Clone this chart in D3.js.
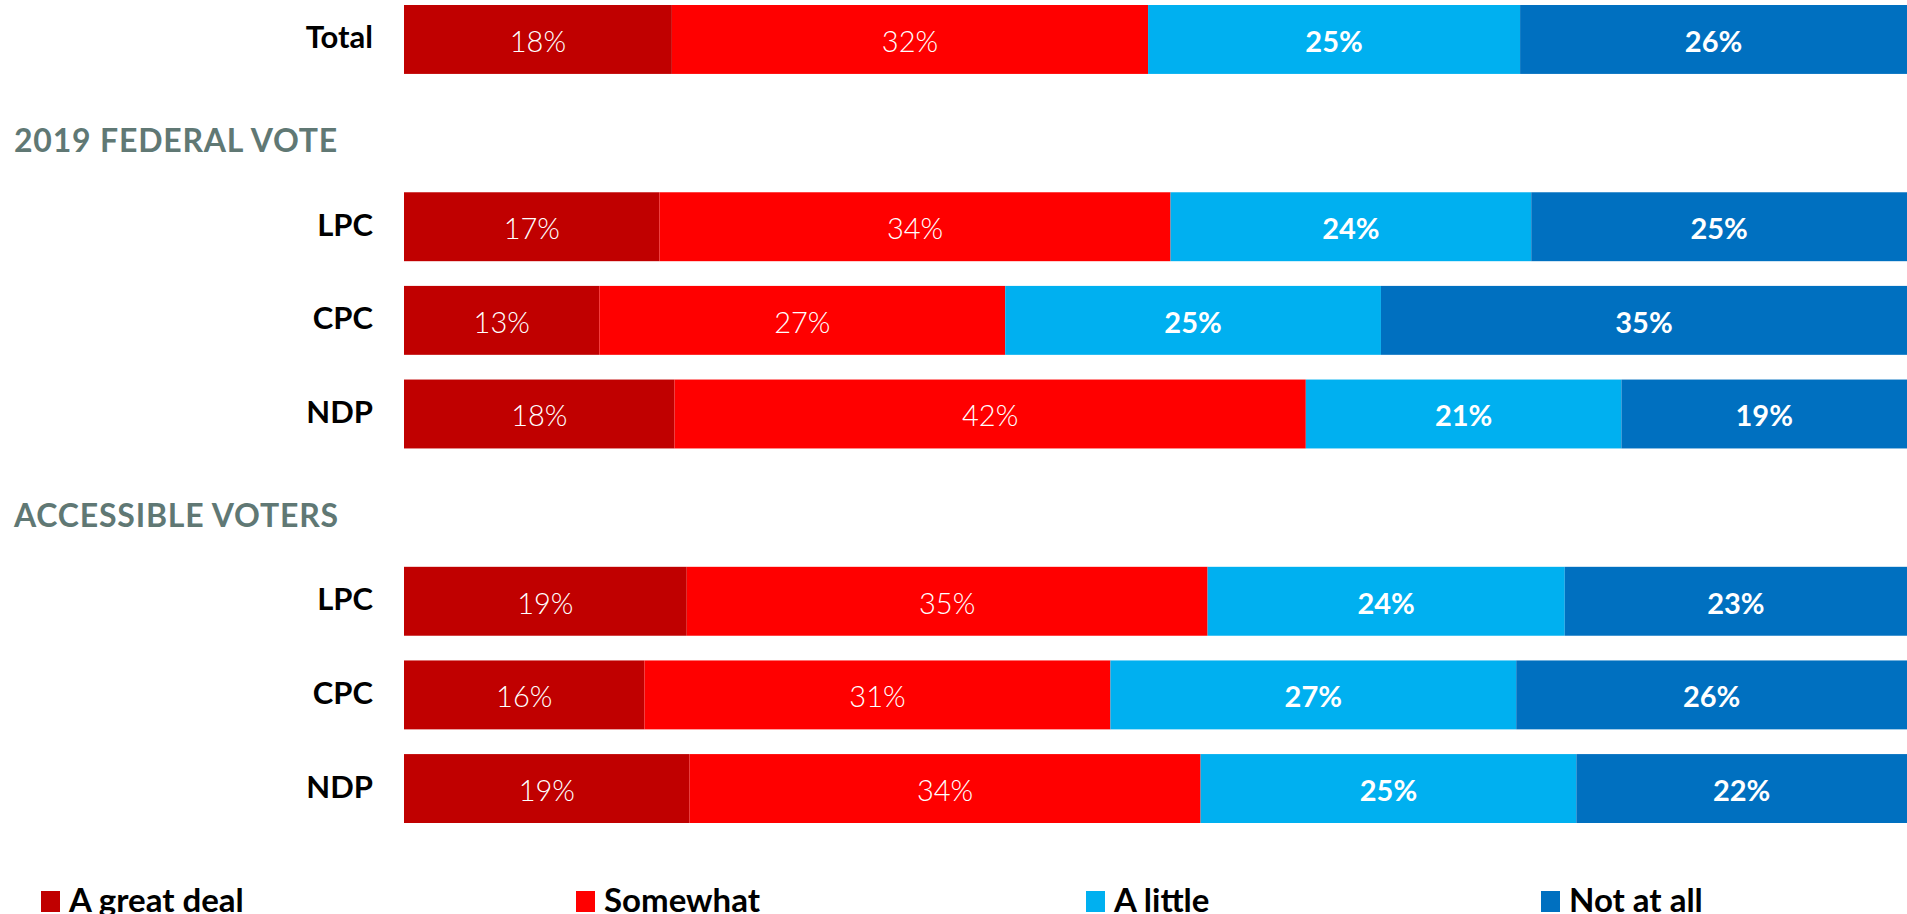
<!DOCTYPE html>
<html><head><meta charset="utf-8">
<script src="https://cdn.jsdelivr.net/npm/d3@7"></script>
<style>
html,body{margin:0;padding:0;background:#fff;overflow:hidden}
svg{display:block;font-family:Lato,"Open Sans",sans-serif}
</style></head>
<body>
<svg id="chart" width="1907" height="914"></svg>
<script>
// ---- data ----
const rowLabels = ["Total", "2019 FEDERAL VOTE", "LPC", "CPC", "NDP", "ACCESSIBLE VOTERS", "LPC", "CPC", "NDP"];
const rowTypes  = ["bar", "header", "bar", "bar", "bar", "header", "bar", "bar", "bar"];
const seriesNames = ["A great deal", "Somewhat", "A little", "Not at all"];
const seriesColors = ["#C00000", "#FF0000", "#00B0F0", "#0070C0"];
const aGreatDeal = [18, null, 17, 13, 18, null, 19, 16, 19];
const somewhat   = [32, null, 34, 27, 42, null, 35, 31, 34];
const aLittle    = [25, null, 24, 25, 21, null, 24, 27, 25];
const notAtAll   = [26, null, 25, 35, 19, null, 23, 26, 22];

// ---- layout ----
const barLeft = 404, barRight = 1907;
const svg = d3.select("#chart");

const rows = rowLabels.map((l, i) => ({
  id: i, label: l, type: rowTypes[i],
  values: [aGreatDeal[i], somewhat[i], aLittle[i], notAtAll[i]]
}));

const y = d3.scaleBand().domain(rows.map(r => r.id)).range([5, 823]).paddingInner(0.264).paddingOuter(0);
const x = d3.scaleLinear().domain([0, 1]).range([barLeft, barRight]);
const color = d3.scaleOrdinal().domain(seriesNames).range(seriesColors);

const barRows = rows.filter(r => r.type === "bar");
barRows.forEach(r => {
  const total = d3.sum(r.values);
  let cum = 0;
  r.segs = r.values.map((v, k) => {
    const s = { series: seriesNames[k], k, v, x0: cum / total, x1: (cum + v) / total };
    cum += v;
    return s;
  });
});

const g = svg.append("g");
const rowG = g.selectAll("g.row").data(barRows).join("g").attr("class", "row")
  .attr("transform", d => `translate(0,${y(d.id)})`);

rowG.selectAll("rect").data(d => d.segs).join("rect")
  .attr("x", d => x(d.x0))
  .attr("width", d => x(d.x1) - x(d.x0))
  .attr("y", 0)
  .attr("height", y.bandwidth())
  .attr("fill", d => color(d.series));

rowG.selectAll("text.val").data(d => d.segs).join("text").attr("class", "val")
  .attr("x", d => (x(d.x0) + x(d.x1)) / 2)
  .attr("y", y.bandwidth() / 2 + 1)
  .attr("text-anchor", "middle")
  .attr("dominant-baseline", "central")
  .attr("fill", "#fff")
  .attr("font-size", 29)
  .attr("font-weight", d => d.k < 2 ? 300 : 700)
  .text(d => d.v + "%");

rowG.append("text")
  .attr("x", 373)
  .attr("y", y.bandwidth() / 2 - 3)
  .attr("text-anchor", "end")
  .attr("dominant-baseline", "central")
  .attr("font-size", 31)
  .attr("font-weight", 700)
  .attr("fill", "#000")
  .text(d => d.label);

// section headers
g.selectAll("text.hdr").data(rows.filter(r => r.type === "header")).join("text").attr("class", "hdr")
  .attr("x", 14)
  .attr("y", d => y(d.id) + y.bandwidth() / 2 + 19)
  .attr("font-size", 32)
  .attr("letter-spacing", 0.8)
  .attr("font-weight", 700)
  .attr("fill", "#607874")
  .text(d => d.label);

// legend
const legendX = [41, 576, 1086, 1541];
const lg = svg.selectAll("g.leg").data(seriesNames).join("g").attr("class", "leg")
  .attr("transform", (d, i) => `translate(${legendX[i]},891)`);
lg.append("rect").attr("width", 19).attr("height", 21).attr("fill", d => color(d));
lg.append("text").attr("x", 28).attr("y", 21)
  .attr("font-size", 33).attr("font-weight", 700).attr("fill", "#000")
  .text(d => d);
</script>
</body></html>
